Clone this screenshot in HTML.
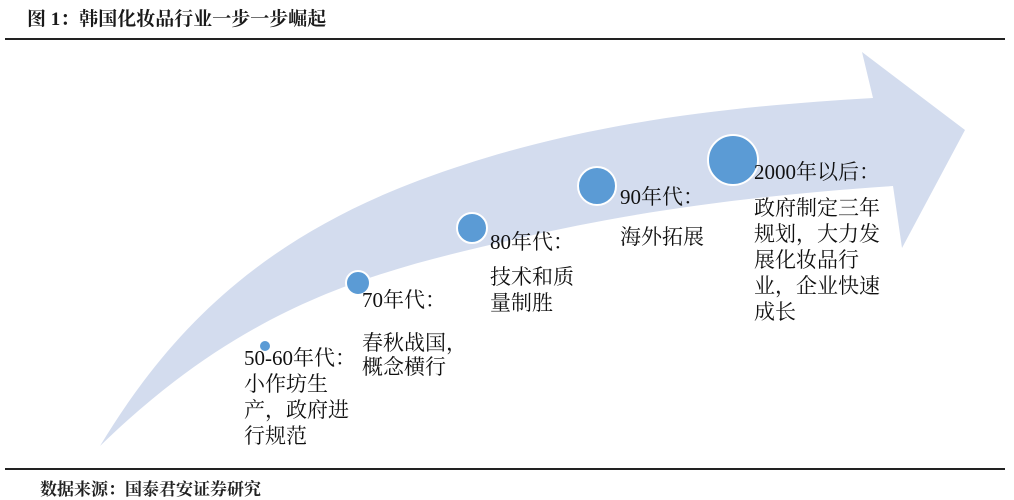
<!DOCTYPE html>
<html><head><meta charset="utf-8"><style>
body{margin:0;width:1014px;height:500px;background:#fff;overflow:hidden;position:relative;font-family:"Liberation Serif","Noto Serif CJK SC","Noto Sans CJK SC",serif}
.t{position:absolute;font-size:21px;color:#111;line-height:26px;white-space:nowrap}
</style></head><body>
<div style="position:absolute;left:27px;top:4px;font-size:19px;font-weight:bold;color:#1a1a1a">图 1：韩国化妆品行业一步一步崛起</div>
<div style="position:absolute;left:5px;top:38px;width:1000px;height:2px;background:#222"></div>
<svg width="1014" height="500" style="position:absolute;left:0;top:0">
<path fill="#d3dcee" d="M100,446 C170,330 260,240 420,180 C560,128 700,108 873,98 L862,52 L965,130 L902,248 L893,186 C760,195 640,210 520,238 C380,270 250,300 100,446 Z"/>
<g id="dots"></g>
</svg>
<div style="position:absolute;left:5px;top:468px;width:1000px;height:2px;background:#222"></div>
<div style="position:absolute;left:40px;top:475px;font-size:17px;font-weight:bold;color:#222">数据来源：国泰君安证券研究</div>
<div class="t" style="left:244px;top:345px">50-60年代：<br>小作坊生<br>产，政府进<br>行规范</div>
<div class="t" style="left:362px;top:287px">70年代：</div>
<div class="t" style="left:362px;top:331px;line-height:24px">春秋战国，<br>概念横行</div>
<div class="t" style="left:490px;top:229px">80年代：</div>
<div class="t" style="left:490px;top:264px">技术和质<br>量制胜</div>
<div class="t" style="left:620px;top:184px">90年代：</div>
<div class="t" style="left:620px;top:224px">海外拓展</div>
<div class="t" style="left:754px;top:159px">2000年以后：</div>
<div class="t" style="left:754px;top:195px">政府制定三年<br>规划，大力发<br>展化妆品行<br>业，企业快速<br>成长</div>
<script>
const eras=["50-60s","70s","80s","90s","2000s"];
const cx=[265,358,472,597,733];
const cy=[346,283,228,186,160];
const radius=[6,12,15,19,25];
const g=document.getElementById('dots');
eras.forEach((e,i)=>{
  const c=document.createElementNS('http://www.w3.org/2000/svg','circle');
  
  
  c.setAttribute('cx',cx[i]);c.setAttribute('cy',cy[i]);c.setAttribute('r',radius[i]);
  c.setAttribute('fill','#5b9bd5');c.setAttribute('stroke','#fff');c.setAttribute('stroke-width','2');
  g.appendChild(c);
});
</script>
</body></html>
